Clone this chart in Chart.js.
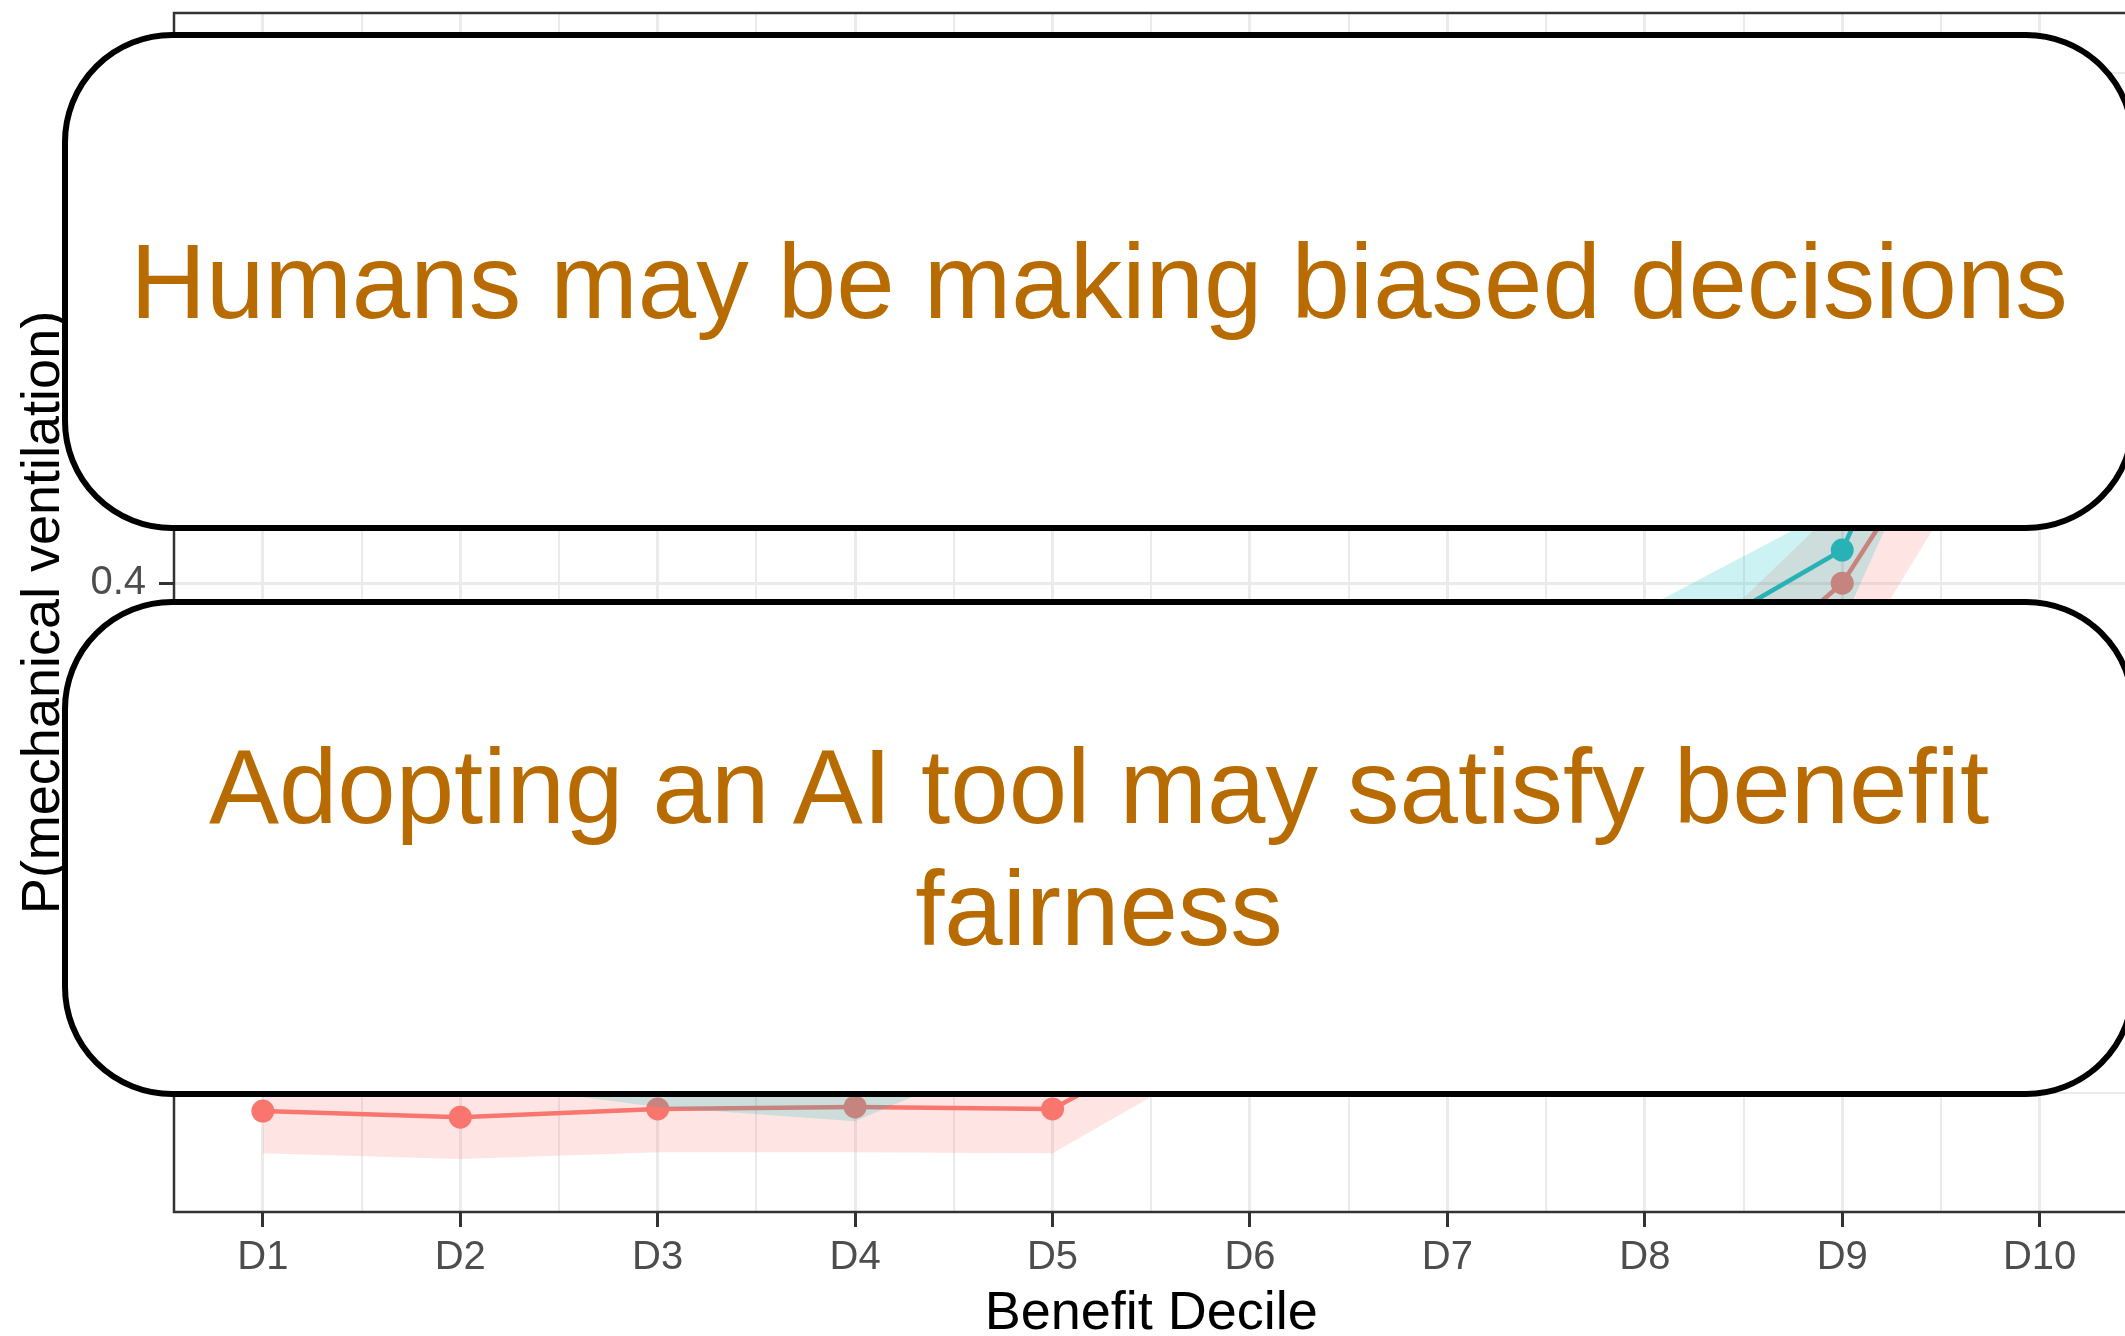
<!DOCTYPE html>
<html>
<head>
<meta charset="utf-8">
<script src="https://cdn.jsdelivr.net/npm/chart.js@4.4.1/dist/chart.umd.min.js"></script>
<style>
html, body { margin:0; padding:0; background:#fff; overflow:hidden; width:2125px; height:1336px; }
#wrap { position:absolute; left:0; top:0; width:2140px; height:1336px; }
.box { position:absolute; left:62px; width:2074px; box-sizing:border-box; border:6px solid #000; border-radius:110px; background:#fff;
  display:flex; align-items:center; justify-content:center; text-align:center;
  font-family:"Liberation Sans", Arial, Helvetica, sans-serif; font-size:105px; line-height:1.16; color:#B86B00; }
#box1 { top:32px; height:499px; white-space:nowrap; }
#box2 { top:599px; height:498px; }
</style>
</head>
<body>
<div id="wrap"><canvas id="c" width="2140" height="1336" style="width:2140px;height:1336px"></canvas></div>
<div class="box" id="box1"><div>Humans may be making biased decisions</div></div>
<div class="box" id="box2"><div>Adopting an AI tool may satisfy benefit<br>fairness</div></div>
<script>
// ---- data ----
const deciles = ['D1','D2','D3','D4','D5','D6','D7','D8','D9','D10'];
const groupAMean  = [0.2965, 0.2953, 0.2969, 0.2973, 0.2969, 0.3178, 0.342, 0.3665, 0.400, 0.460];
const groupALower = [0.2882, 0.2871, 0.2884, 0.2884, 0.2882, 0.3104, 0.332, 0.355, 0.3814, 0.445];
const groupAUpper = [0.305, 0.304, 0.305, 0.306, 0.306, 0.325, 0.352, 0.3784, 0.4157, 0.477];
const groupBMean  = [0.318, 0.316, 0.312, 0.310, 0.322, 0.336, 0.358, 0.3841, 0.4065, 0.492];
const groupBLower = [0.305, 0.3024, 0.2973, 0.2945, 0.311, 0.325, 0.346, 0.372, 0.392, 0.478];
const groupBUpper = [0.331, 0.330, 0.327, 0.326, 0.333, 0.347, 0.370, 0.3951, 0.4155, 0.506];
const yMajorTicks = [0.2, 0.4, 0.6];
const yTickLabels = ['0.2', '0.4', '0.6'];
const yMinorTicks = [0.3, 0.5];
const yLimits = [0.2767, 0.5118];
const xTitle = 'Benefit Decile';
const yTitle = 'P(mechanical ventilation)';

// ---- helpers ----
const toXY = arr => arr.map((v, i) => ({ x: i + 1, y: v }));
const isInt = v => Math.abs(v - Math.round(v)) < 1e-9;
const isMajorY = v => yMajorTicks.some(m => Math.abs(m - v) < 1e-6);
const xGridValues = [];
deciles.forEach((d, i) => { xGridValues.push(i + 1); if (i < deciles.length - 1) xGridValues.push(i + 1.5); });
const yGridValues = yMajorTicks.concat(yMinorTicks).sort((a, b) => a - b)
  .filter(v => v >= yLimits[0] && v <= yLimits[1]);

const RED = '#F8766D', TEAL = '#00BFC4';
Chart.defaults.font.family = '"Liberation Sans", Arial, Helvetica, sans-serif';

const panelBorder = {
  id: 'panelBorder',
  afterDatasetsDraw(chart) {
    const { ctx, chartArea: a } = chart;
    ctx.save();
    ctx.strokeStyle = '#333333';
    ctx.lineWidth = 2.5;
    ctx.strokeRect(a.left, a.top, a.right - a.left, a.bottom - a.top);
    ctx.restore();
  }
};

const lineDs = (label, data, color, order) => ({
  label, data: toXY(data), borderColor: color, backgroundColor: color,
  borderWidth: 4.5, pointRadius: 11.5, pointHoverRadius: 11.5, pointBorderWidth: 0,
  pointBackgroundColor: color, fill: false, order,
  borderJoinStyle: 'round', borderCapStyle: 'round'
});
const bandDs = (label, data, fill, color, order) => ({
  label, data: toXY(data), borderColor: 'rgba(0,0,0,0)', borderWidth: 0,
  pointRadius: 0, pointHoverRadius: 0, fill, backgroundColor: color, order
});

new Chart(document.getElementById('c'), {
  type: 'line',
  data: {
    datasets: [
      lineDs('Group A', groupAMean, RED, 6),
      lineDs('Group B', groupBMean, TEAL, 5),
      bandDs('Group A lower', groupALower, false, 'rgba(0,0,0,0)', 4),
      bandDs('Group A upper', groupAUpper, { target: 2 }, 'rgba(248,118,109,0.2)', 3),
      bandDs('Group B lower', groupBLower, false, 'rgba(0,0,0,0)', 2),
      bandDs('Group B upper', groupBUpper, { target: 4 }, 'rgba(0,191,196,0.2)', 1)
    ]
  },
  options: {
    responsive: false,
    animation: false,
    events: [],
    layout: { padding: { top: 13, left: 0, right: 10, bottom: 0 } },
    plugins: { legend: { display: false }, tooltip: { enabled: false } },
    elements: { line: { tension: 0 } },
    scales: {
      x: {
        type: 'linear', min: 0.55, max: 10.45, bounds: 'data',
        afterBuildTicks: s => { s.ticks = xGridValues.map(v => ({ value: v })); },
        afterFit: s => { s.height = 124; },
        border: { display: false },
        grid: {
          color: '#EBEBEB',
          lineWidth: c => (c.tick && isInt(c.tick.value)) ? 3 : 2,
          tickColor: c => (c.tick && isInt(c.tick.value)) ? '#333333' : 'rgba(0,0,0,0)',
          tickLength: 15, tickWidth: 3, drawTicks: true, drawOnChartArea: true
        },
        ticks: {
          padding: 7, color: '#4D4D4D', font: { size: 40 }, autoSkip: false, maxRotation: 0, minRotation: 0,
          callback: v => isInt(v) ? deciles[Math.round(v) - 1] : []
        },
        title: { display: true, text: xTitle, color: '#000000', font: { size: 54, lineHeight: 0.8 }, padding: { top: 0, bottom: 0 } }
      },
      y: {
        type: 'linear', min: yLimits[0], max: yLimits[1], bounds: 'data',
        afterBuildTicks: s => { s.ticks = yGridValues.map(v => ({ value: v })); },
        afterFit: s => { s.width = 174; },
        border: { display: false },
        grid: {
          color: '#EBEBEB',
          lineWidth: c => (c.tick && isMajorY(c.tick.value)) ? 3 : 2,
          tickColor: c => (c.tick && isMajorY(c.tick.value)) ? '#333333' : 'rgba(0,0,0,0)',
          tickLength: 15, tickWidth: 3, drawTicks: true, drawOnChartArea: true
        },
        ticks: {
          padding: 13, color: '#4D4D4D', font: { size: 40 }, autoSkip: false,
          callback: v => {
            const idx = yMajorTicks.findIndex(m => Math.abs(m - v) < 1e-6);
            return idx >= 0 ? yTickLabels[idx] : [];
          }
        },
        title: { display: true, text: yTitle, color: '#000000', font: { size: 54 }, padding: { top: 12, bottom: 0 } }
      }
    }
  },
  plugins: [panelBorder]
});
</script>
</body>
</html>
